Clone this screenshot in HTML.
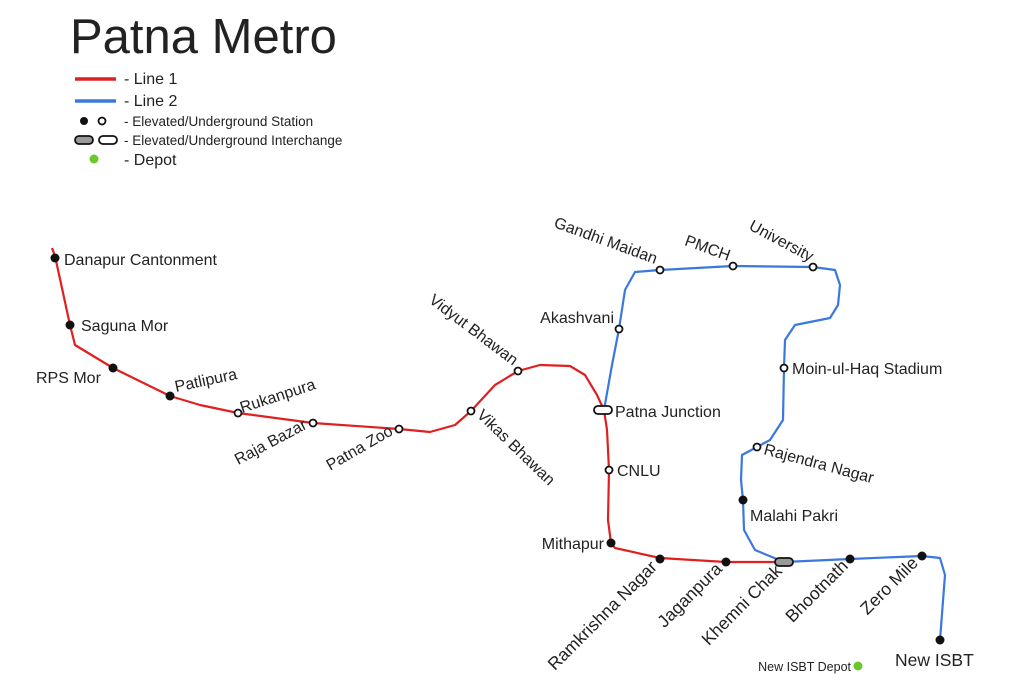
<!DOCTYPE html>
<html><head><meta charset="utf-8"><style>
html,body{margin:0;padding:0;background:#fff}
svg{display:block}
text{font-family:"Liberation Sans",sans-serif;fill:#222}
</style></head><body>
<svg width="1024" height="683" viewBox="0 0 1024 683" xmlns="http://www.w3.org/2000/svg">
<rect width="1024" height="683" fill="#fff"/>
<text x="70" y="53" font-size="49" fill="#111">Patna Metro</text>
<line x1="75" y1="79" x2="116" y2="79" stroke="#e02020" stroke-width="3.5"/>
<text x="124" y="84" font-size="16">- Line 1</text>
<line x1="75" y1="101" x2="116" y2="101" stroke="#3a78e0" stroke-width="3.5"/>
<text x="124" y="106" font-size="16">- Line 2</text>
<circle cx="84" cy="121" r="4" fill="#111"/><circle cx="102" cy="121" r="3.5" fill="#fff" stroke="#111" stroke-width="1.8"/>
<text x="124" y="126" font-size="13.5">- Elevated/Underground Station</text>
<rect x="75" y="136" width="18" height="8" rx="4" fill="#999" stroke="#111" stroke-width="1.8"/>
<rect x="99" y="136" width="18" height="8" rx="4" fill="#fff" stroke="#111" stroke-width="1.8"/>
<text x="124" y="145" font-size="13.5">- Elevated/Underground Interchange</text>
<circle cx="94" cy="159" r="4.5" fill="#6bc82a"/>
<text x="124" y="165" font-size="16">- Depot</text>

<polyline fill="none" stroke="#3a78e0" stroke-width="2.2" stroke-linejoin="round" points="604,410 612,365 619,329 625,290 635,272 660,270 733,266 813,267 835,270 840,285 838,305 830,318 795,325 785,340 784,368 783,420 770,440 757,447 742,455 741,480 743,500 744,530 755,550 784,562 850,559 922,556 940,558 945,575 940,640"/>
<polyline fill="none" stroke="#e02020" stroke-width="2.2" stroke-linejoin="round" points="52,248 55,256 70,325 75,345 113,368 170,396 200,405 238,413 313,423 399,429 430,432 455,425 471,411 495,385 518,371 540,365 570,366 585,375 597,395 604,410 607,430 609,470 608,520 611,543 615,548 660,558 726,562 784,562"/>

<g fill="#111">
<circle cx="55" cy="258" r="4.5"/><circle cx="70" cy="325" r="4.5"/><circle cx="113" cy="368" r="4.5"/><circle cx="170" cy="396" r="4.5"/>
<circle cx="611" cy="543" r="4.5"/><circle cx="660" cy="559" r="4.5"/><circle cx="726" cy="562" r="4.5"/><circle cx="850" cy="559" r="4.5"/><circle cx="922" cy="556" r="4.5"/><circle cx="940" cy="640" r="4.5"/><circle cx="743" cy="500" r="4.5"/>
</g>
<g fill="#fff" stroke="#111" stroke-width="1.8">
<circle cx="238" cy="413" r="3.5"/><circle cx="313" cy="423" r="3.5"/><circle cx="399" cy="429" r="3.5"/><circle cx="471" cy="411" r="3.5"/><circle cx="518" cy="371" r="3.5"/>
<circle cx="609" cy="470" r="3.5"/><circle cx="619" cy="329" r="3.5"/><circle cx="660" cy="270" r="3.5"/><circle cx="733" cy="266" r="3.5"/><circle cx="813" cy="267" r="3.5"/><circle cx="784" cy="368" r="3.5"/><circle cx="757" cy="447" r="3.5"/>
</g>
<rect x="594" y="406" width="18" height="8" rx="4" fill="#fff" stroke="#111" stroke-width="1.8"/>
<rect x="775" y="558" width="18" height="8" rx="4" fill="#999" stroke="#111" stroke-width="1.8"/>
<circle cx="858" cy="666" r="4.5" fill="#6bc82a"/>

<g font-size="16">
<text x="64" y="265">Danapur Cantonment</text>
<text x="81" y="331">Saguna Mor</text>
<text x="36" y="383">RPS Mor</text>
<text x="176" y="392" transform="rotate(-12 176 392)">Patlipura</text>
<text x="242" y="413" transform="rotate(-18 242 413)">Rukanpura</text>
<text x="308" y="428" text-anchor="end" transform="rotate(-28 308 428)">Raja Bazar</text>
<text x="394" y="434" text-anchor="end" transform="rotate(-30 394 434)">Patna Zoo</text>
<text x="476" y="416" transform="rotate(44 476 416)">Vikas Bhawan</text>
<text x="513" y="366" text-anchor="end" transform="rotate(37 513 366)">Vidyut Bhawan</text>
<text x="614" y="323" text-anchor="end">Akashvani</text>
<text x="655" y="264" text-anchor="end" transform="rotate(20 655 264)">Gandhi Maidan</text>
<text x="728" y="261" text-anchor="end" transform="rotate(20 728 261)">PMCH</text>
<text x="810" y="262" text-anchor="end" transform="rotate(28 810 262)">University</text>
<text x="792" y="374">Moin-ul-Haq Stadium</text>
<text x="615" y="417">Patna Junction</text>
<text x="617" y="476">CNLU</text>
<text x="763" y="454" transform="rotate(15 763 454)">Rajendra Nagar</text>
<text x="750" y="521">Malahi Pakri</text>
<text x="604" y="549" text-anchor="end">Mithapur</text>
</g>
<g font-size="17.5">
<text x="658" y="568" text-anchor="end" transform="rotate(-45 658 568)">Ramkrishna Nagar</text>
<text x="723" y="570" text-anchor="end" transform="rotate(-45 723 570)">Jaganpura</text>
<text x="783" y="572" text-anchor="end" transform="rotate(-45 783 572)">Khemni Chak</text>
<text x="849" y="567" text-anchor="end" transform="rotate(-45 849 567)">Bhootnath</text>
<text x="919" y="564" text-anchor="end" transform="rotate(-45 919 564)">Zero Mile</text>
<text x="895" y="666">New ISBT</text>
</g>
<text x="851" y="671" font-size="12.5" text-anchor="end">New ISBT Depot</text>
</svg>
</body></html>
